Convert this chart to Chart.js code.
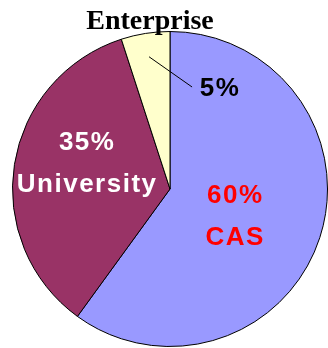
<!DOCTYPE html>
<html>
<head>
<meta charset="utf-8">
<script src="https://cdn.jsdelivr.net/npm/chart.js@4/dist/chart.umd.min.js"></script>
<style>
  html, body { margin: 0; padding: 0; background: #fff; }
  canvas { display: block; }
</style>
</head>
<body>
<canvas id="chart" width="328" height="348"></canvas>
<script>
"use strict";

var categories = ["CAS", "University", "Enterprise"];
var shares = [60, 35, 5];
var sliceColors = ["#9999FF", "#993366", "#FFFFCC"];
var textColors = ["#FF0000", "#FFFFFF", "#000000"];

// where each slice's label sits: angle nudge (deg) and distance as a fraction of the radius
var labelAngleShift = [5, 8, 35.6];
var labelDistance = [0.45, 0.55, 0.71];

var sliceLabels = {
    id: "sliceLabels",
    afterDatasetsDraw: function(chart) {
        var ctx = chart.ctx;
        var arcs = chart.getDatasetMeta(0).data;
        ctx.save();
        ctx.textAlign = "center";
        ctx.textBaseline = "middle";
        ctx.font = "bold 26px 'Liberation Sans', Arial, sans-serif";
        ctx.letterSpacing = "1.5px";

        arcs.forEach(function(arc, i) {
            var p = arc.getProps(["x", "y", "startAngle", "endAngle", "outerRadius"], true);
            var mid = (p.startAngle + p.endAngle) / 2 + labelAngleShift[i] * Math.PI / 180;
            var r = p.outerRadius * labelDistance[i];
            var lx = p.x + Math.cos(mid) * r;
            var ly = p.y + Math.sin(mid) * r;
            var pct = shares[i] + "%";
            ctx.fillStyle = textColors[i];

            if (i === 2) {
                // small slice: value outside with a leader line back into the slice
                var a = (p.startAngle + p.endAngle) / 2;
                var sx = p.x + Math.cos(a) * p.outerRadius * 0.85;
                var sy = p.y + Math.sin(a) * p.outerRadius * 0.85;
                ctx.strokeStyle = "#000";
                ctx.lineWidth = 1;
                ctx.beginPath();
                ctx.moveTo(sx, sy);
                ctx.lineTo(lx - 28, ly - 2);
                ctx.stroke();
                ctx.fillText(pct, lx, ly);
            } else {
                ctx.fillText(pct, lx, ly - 21);
                ctx.fillText(categories[i], lx, ly + 21);
            }
        });

        // the small slice's name goes above the pie
        var first = arcs[0].getProps(["x", "y", "outerRadius"], true);
        ctx.letterSpacing = "0px";
        ctx.textBaseline = "alphabetic";
        ctx.fillStyle = "#000";
        ctx.font = "bold 28px 'Liberation Serif', 'Times New Roman', serif";
        ctx.fillText(categories[2], first.x - 20, first.y - first.outerRadius - 3);
        ctx.restore();
    }
};

var chart = new Chart(document.getElementById("chart").getContext("2d"), {
    type: "pie",
    data: {
        labels: categories,
        datasets: [{
            data: shares,
            backgroundColor: sliceColors,
            borderColor: "#000000",
            borderWidth: 1
        }]
    },
    options: {
        responsive: false,
        animation: false,
        layout: { padding: { left: 12, right: 0, top: 31, bottom: 1 } },
        plugins: {
            legend: { display: false },
            tooltip: { enabled: false }
        }
    },
    plugins: [sliceLabels]
});
</script>
</body>
</html>
